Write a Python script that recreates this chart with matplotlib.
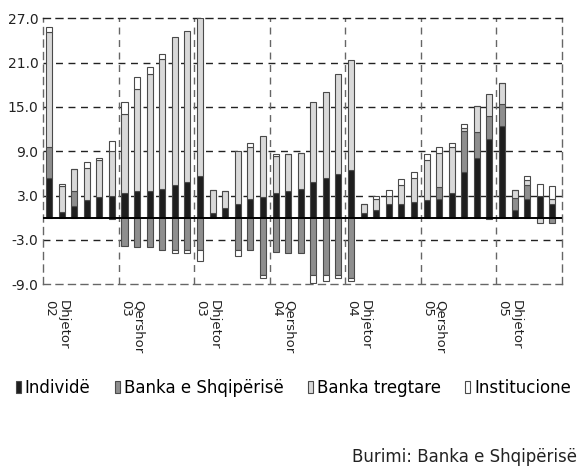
import matplotlib
matplotlib.use("Agg")
import matplotlib.pyplot as plt
import numpy as np

plt.rcParams['font.family'] = ['DejaVu Sans']

# vlerat mujore, 41 kolona (miliarde leke)
individe = [5.4, 0.8, 1.6, 2.4, 2.8, 3.0, 3.3, 3.6, 3.6, 3.9, 4.4, 4.9, 5.6, 0.6,
            1.3, 1.8, 2.6, 2.8, 3.3, 3.6, 3.9, 4.9, 5.4, 5.9, 6.4, 0.6, 1.0, 1.8,
            1.8, 2.1, 2.4, 2.6, 3.4, 6.2, 8.1, 10.7, 12.4, 1.0, 2.6, 3.0, 1.8]
banka_shq = [4.2, 0.0, 2.0, 0.0, 0.0, -0.2, -3.8, -4.0, -4.0, -4.3, -4.3, -4.4, -4.3, 0.0,
             0.0, -4.3, -4.4, -7.7, -4.6, -4.8, -4.8, -7.7, -7.7, -7.8, -8.1, 0.0, 0.0, 0.0,
             0.0, 0.0, 0.0, 1.5, 0.0, 5.5, 3.5, 3.1, 3.0, 1.7, 1.8, 0.0, -0.7]
banka_tregtare = [15.5, 3.5, 3.0, 4.4, 5.0, 6.1, 10.8, 13.8, 15.8, 17.6, 20.1, 20.4, 21.4, 3.2,
                  2.3, 7.3, 7.0, 8.3, 5.0, 5.0, 4.9, 10.8, 11.6, 13.5, 14.9, 1.2, 1.6, 1.2,
                  2.7, 3.3, 5.4, 4.7, 6.2, 0.4, 3.5, 2.9, 2.8, 1.0, 0.7, -0.7, 0.7]
institucione = [0.7, 0.3, 0.0, 0.8, 0.3, 1.3, 1.6, 1.6, 1.0, 0.7, -0.5, -0.4, -1.5, 0.0,
                0.0, -0.9, 0.5, -0.4, 0.3, 0.0, 0.0, -1.1, -0.8, -0.3, -0.5, 0.0, 0.4, 0.8,
                0.8, 0.8, 0.8, 0.8, 0.5, 0.6, 0.0, -0.2, 0.0, 0.0, 0.5, 1.6, 1.8]

tick_labels = ['Dhjetor\n02', 'Qershor\n03', 'Dhjetor\n03', 'Qershor\n04',
               'Dhjetor\n04', 'Qershor\n05', 'Dhjetor\n05']
seri_emra = ['Individë', 'Banka e Shqipërisë', 'Banka tregtare', 'Institucione']
ngjyrat = ['#1e1e1e', '#8e8e8e', '#d9d9d9', '#ffffff']

seri = [individe, banka_shq, banka_tregtare, institucione]
n = len(individe)
x = np.arange(n)

fig = plt.figure(figsize=(5.81, 4.68), dpi=100)
ax = fig.add_axes([0.0735, 0.3925, 0.8935, 0.5685])

# stivim i ndare per vlerat pozitive dhe negative
poz = np.zeros(n)
neg = np.zeros(n)
handles = []
for vals, ngj, emri in zip(seri, ngjyrat, seri_emra):
    v = np.array(vals)
    bottom = np.where(v >= 0, poz, neg)
    h = ax.bar(x, v, width=0.48, bottom=bottom, color=ngj, edgecolor='#4a4a4a',
               linewidth=0.8, label=emri, zorder=3)
    handles.append(h)
    poz = poz + np.clip(v, 0, None)
    neg = neg + np.clip(v, None, 0)

ax.set_xlim(-0.5, 40.75)
ax.set_ylim(-9, 27)
ax.set_yticks(np.arange(-9, 28, 6))
ax.set_yticklabels(['%.1f' % t for t in np.arange(-9, 28, 6)], fontsize=10, color='#222222')
ax.tick_params(axis='y', length=0, pad=3)

# rrjeti
for yv in np.arange(-3, 27, 6):
    ax.axhline(yv, color='#222222', lw=1.0, ls=(0, (5, 4)), zorder=1)
for xv in np.arange(5.55, 40, 6):
    ax.axvline(xv, color='#666666', lw=1.0, ls=(0, (5, 4)), zorder=1)
ax.axhline(0, color='black', lw=1.4, zorder=4)

for s in ax.spines.values():
    s.set_linestyle((0, (5, 4)))
    s.set_color('#666666')
    s.set_linewidth(1.0)
ax.spines['top'].set_color('#222222')

ax.set_xticks(np.arange(0, 41, 6)[:len(tick_labels)] + 0.6)
ax.set_xticklabels(tick_labels, rotation=270, fontsize=9.5, color='#222222',
                   multialignment='left', linespacing=1.0)
ax.tick_params(axis='x', length=0, pad=11)

fig.legend(handles=handles, labels=seri_emra, loc='center', bbox_to_anchor=(0.505, 0.171),
           ncol=4, frameon=False, fontsize=12, handlelength=0.3, handleheight=0.75,
           handletextpad=0.25, columnspacing=1.45, borderaxespad=0)

fig.text(0.993, 0.0235, 'Burimi: Banka e Shqipërisë', ha='right', va='center',
         fontsize=12, color='#222222')

fig.savefig('out.png', dpi=100)
